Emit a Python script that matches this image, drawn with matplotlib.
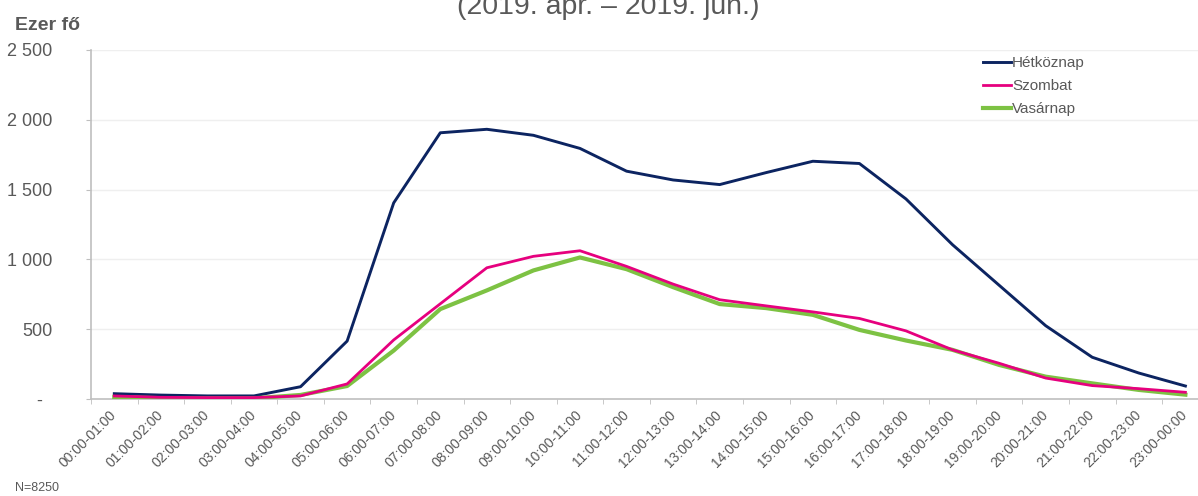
import matplotlib
matplotlib.use("Agg")
import matplotlib.pyplot as plt
import numpy as np

# Hourly slots and the three day-type series (thousand persons)
slots = ["00:00-01:00", "01:00-02:00", "02:00-03:00", "03:00-04:00", "04:00-05:00",
         "05:00-06:00", "06:00-07:00", "07:00-08:00", "08:00-09:00", "09:00-10:00",
         "10:00-11:00", "11:00-12:00", "12:00-13:00", "13:00-14:00", "14:00-15:00",
         "15:00-16:00", "16:00-17:00", "17:00-18:00", "18:00-19:00", "19:00-20:00",
         "20:00-21:00", "21:00-22:00", "22:00-23:00", "23:00-00:00"]
hetkoznap = [38, 28, 22, 22, 88, 415, 1405, 1907, 1932, 1889, 1795, 1632, 1569, 1536,
             1622, 1703, 1687, 1433, 1105, 815, 525, 299, 186, 93]
szombat = [22, 12, 10, 10, 22, 108, 423, 682, 940, 1022, 1062, 950, 823, 711,
           667, 624, 577, 488, 352, 256, 150, 96, 74, 48]
vasarnap = [14, 6, 5, 5, 29, 93, 347, 644, 778, 921, 1014, 930, 801, 680,
            651, 603, 495, 419, 352, 244, 160, 112, 65, 31]
yticks = [0, 500, 1000, 1500, 2000, 2500]
ytick_labels = ["-  ", "500", "1 000", "1 500", "2 000", "2 500"]

plt.rcParams['font.family'] = ['Liberation Sans', 'DejaVu Sans']
grey = '#595959'

W, H = 1198, 496
fig = plt.figure(figsize=(W / 100, H / 100), dpi=100)
x0, x1 = 91, 91 + 24 * 46.57
ax = fig.add_axes([x0 / W, 1 - 399 / H, (x1 - x0) / W, (399 - 50) / H])

x = np.arange(len(slots))
ax.plot(x, hetkoznap, color='#0c2461', linewidth=2.1, label='Hétköznap', zorder=3)
ax.plot(x, szombat, color='#e6007e', linewidth=2.0, label='Szombat', zorder=4)
ax.plot(x, vasarnap, color='#7dc243', linewidth=3.0, label='Vasárnap', zorder=3)

ax.set_xlim(-0.5, 23.5)
ax.set_ylim(0, 2500)
ax.set_yticks(yticks)
ax.set_yticklabels(ytick_labels, fontsize=13, color=grey)
ax.set_xticks(x)
ax.set_xticklabels(slots, rotation=45, ha='right', va='center',
                   rotation_mode='anchor', fontsize=10, color=grey)
ax.set_xticks(np.arange(-0.5, 24, 1), minor=True)
ax.tick_params(axis='x', which='major', length=0, pad=10)
ax.tick_params(axis='x', which='minor', length=3.6, color='#bfbfbf', direction='out')
ax.tick_params(axis='y', length=3.6, color='#bfbfbf', pad=24)

ax.grid(axis='y', color='#efefef', linewidth=1)
ax.set_axisbelow(True)
for s in ['top', 'right']:
    ax.spines[s].set_visible(False)
for s in ['left', 'bottom']:
    ax.spines[s].set_color('#bfbfbf')
    ax.spines[s].set_linewidth(1.2)

ax.legend(loc='upper left', bbox_to_anchor=(983 / W, 1 - 56 / H),
          bbox_transform=fig.transFigure, frameon=False, fontsize=11,
          handlelength=1.8, handletextpad=0.1, labelspacing=0.6,
          borderpad=0, borderaxespad=0, labelcolor=grey)

fig.text(15 / W, 1 - 25 / H, "Ezer fő", fontsize=14, fontweight='bold',
         color=grey, ha='left', va='center')
fig.text(608 / W, 1 - 14 / H, "(2019. ápr. – 2019. jún.)", fontsize=20.5,
         color=grey, ha='center', va='baseline')
fig.text(15 / W, 1 - 488 / H, "N=8250", fontsize=9, color=grey,
         ha='left', va='center')

fig.savefig("out.png", dpi=100)
